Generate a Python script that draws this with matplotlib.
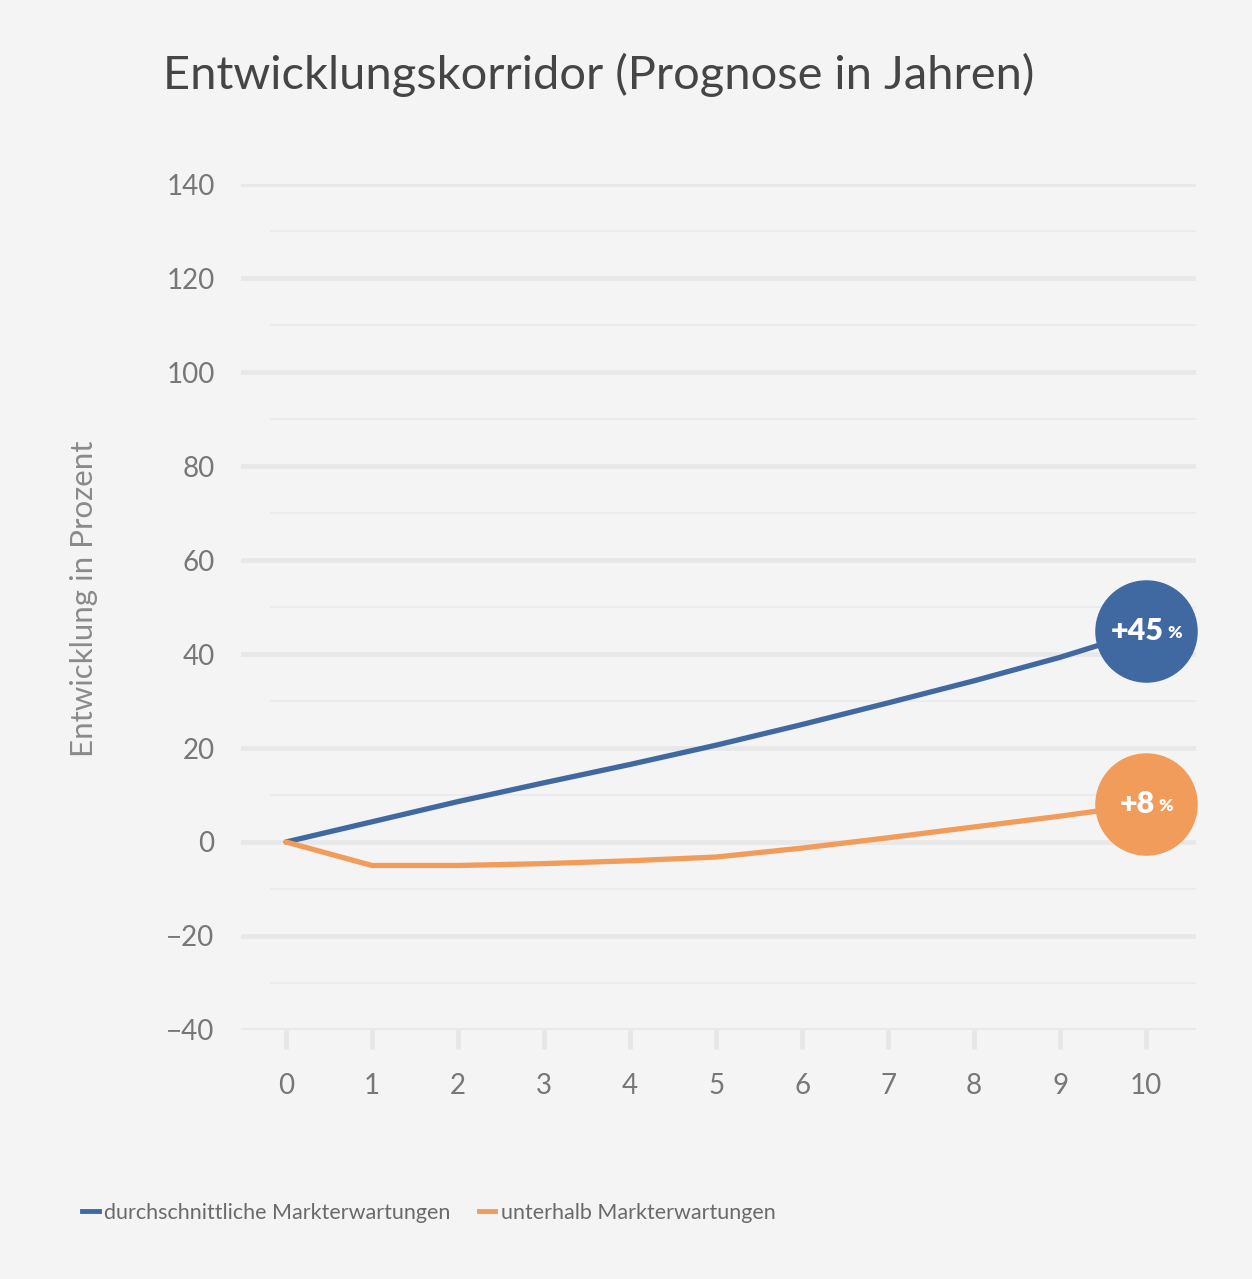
import numpy as np
import matplotlib.pyplot as plt
from matplotlib.lines import Line2D

plt.rcParams['font.family'] = ['Lato', 'DejaVu Sans']

# data
years = [0, 1, 2, 3, 4, 5, 6, 7, 8, 9, 10]
durchschnitt = [0, 4.3, 8.6, 12.6, 16.5, 20.6, 25.0, 29.6, 34.3, 39.3, 45]
unterhalb = [0, -5.0, -5.0, -4.6, -4.0, -3.2, -1.3, 0.9, 3.2, 5.5, 8]
y_major = [-40, -20, 0, 20, 40, 60, 80, 100, 120, 140]
y_minor = [-30, -10, 10, 30, 50, 70, 90, 110, 130]

blue = '#4069a2'
orange = '#f19c5b'
bg = '#f4f4f4'

fig = plt.figure(figsize=(12.52, 12.79), dpi=100, facecolor=bg)
ax = fig.add_axes([0.1925, 0.1947, 0.7628, 0.6614])
ax.set_facecolor(bg)

ax.set_xlim(-0.523, 10.58)
ax.set_ylim(-40, 140)

# grid lines
for v in y_major:
    ax.axhline(v, color='#e8e8e8', lw=3.4, zorder=0)
for v in y_minor:
    ax.hlines(v, -0.186, 10.58, color='#ebebeb', lw=1.3, zorder=0)

ax.plot(years, durchschnitt, color=blue, lw=3.8, solid_capstyle='round', zorder=3)
ax.plot(years, unterhalb, color=orange, lw=3.8, solid_capstyle='round', zorder=3)

# end bubbles
for vals, col in [(durchschnitt, blue), (unterhalb, orange)]:
    ax.scatter([years[-1]], [vals[-1]], s=5300, color=col, zorder=5, clip_on=False)
    num = f"+{vals[-1]:.0f}"
    off = 13 if len(num) > 2 else 6.5
    ax.annotate(num, (years[-1], vals[-1]), xytext=(off, 0), textcoords='offset points',
                ha='right', va='center', color='white', fontsize=22, fontweight='heavy', zorder=6)
    ax.annotate('%', (years[-1], vals[-1]), xytext=(off + 2.5, -1.5), textcoords='offset points',
                ha='left', va='center', color='white', fontsize=12.5, fontweight='heavy', zorder=6)

ax.set_xticks(years)
ax.set_yticks(y_major)
for s in ax.spines.values():
    s.set_visible(False)
ax.tick_params(axis='x', length=14, width=3.4, color='#e6e6e6', pad=17,
               labelsize=20, labelcolor='#777777')
ax.tick_params(axis='y', length=0, pad=19, labelsize=20, labelcolor='#777777')

ax.set_ylabel('Entwicklung in Prozent', fontsize=22.5, color='#8a8a8a', labelpad=0)
ax.yaxis.set_label_coords(-0.150, 0.51)

fig.text(163 / 1252, 1 - 75 / 1279, 'Entwicklungskorridor (Prognose in Jahren)',
         fontsize=33.8, color='#454545', va='center', ha='left')

handles = [Line2D([], [], color=blue, lw=3.5), Line2D([], [], color=orange, lw=3.5)]
labels = ['durchschnittliche Markterwartungen', 'unterhalb Markterwartungen']
leg = fig.legend(handles, labels, loc='center left', bbox_to_anchor=(63 / 1252, 1 - 1213 / 1279),
                 ncol=2, frameon=False, handlelength=0.75, handletextpad=0.25,
                 columnspacing=1.35, fontsize=15.5)
for t in leg.get_texts():
    t.set_color('#6a6a6a')

fig.savefig('out.png', dpi=100, facecolor=bg)
